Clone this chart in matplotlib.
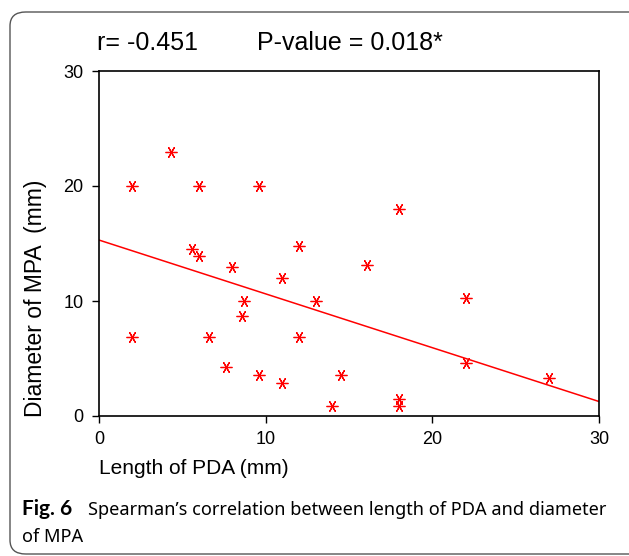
import numpy as np
import matplotlib
matplotlib.use("Agg")
import matplotlib.pyplot as plt
from matplotlib.patches import FancyBboxPatch

# data
pda_length = [2, 2, 4.3, 6, 9.6, 5.6, 6, 8, 8.7, 8.6, 6.6, 7.6, 9.6, 11, 11,
              12, 12, 13, 14, 14.5, 18, 16.1, 22, 22, 27, 18, 18]
mpa_diameter = [20, 6.9, 23, 20, 20, 14.5, 13.9, 13, 10, 8.7, 6.9, 4.3, 3.6, 2.9, 12,
                14.8, 6.9, 10, 0.9, 3.6, 18, 13.1, 10.3, 4.6, 3.3, 1.5, 0.9]
fit_intercept = 15.3
fit_slope = -0.468
x_ticks = [0, 10, 20, 30]
y_ticks = [0, 10, 20, 30]

W, H = 629, 556
fig = plt.figure(figsize=(W / 100, H / 100), dpi=100)
plt.rcParams['font.family'] = ['Liberation Sans', 'DejaVu Sans']

# rounded frame around the whole figure
frame = FancyBboxPatch((10 / W, (H - 554) / H), (W + 20) / W, (554 - 12) / H,
                       boxstyle="round,pad=0,rounding_size=0.025",
                       transform=fig.transFigure, fill=False,
                       edgecolor='#555555', linewidth=1.0)
fig.patches.append(frame)

ax = fig.add_axes([99 / W, (H - 416) / H, 500 / W, 345 / H])
ax.plot(pda_length, mpa_diameter, linestyle='none', marker=(6, 2, 30),
        color='red', markersize=8.5, markeredgewidth=0.9)
xs = np.array([0, 30])
ax.plot(xs, fit_intercept + fit_slope * xs, color='red', linewidth=1.1)

ax.set_xlim(0, 30)
ax.set_ylim(0, 30)
ax.set_xticks(x_ticks)
ax.set_yticks(y_ticks)
ax.tick_params(direction='out', length=5, width=1, labelsize=13, pad=6)
for s in ax.spines.values():
    s.set_linewidth(1.2)

ax.set_xlabel("Length of PDA (mm)", fontsize=15, labelpad=8, loc='left')
ax.set_ylabel("Diameter of MPA  (mm)", fontsize=16.5)
ax.yaxis.set_label_coords(-0.104, 0.342)

fig.text(97 / W, 1 - 50 / H, "r= -0.451", fontsize=18)
fig.text(257 / W, 1 - 50 / H, "P-value = 0.018*", fontsize=18)

fig.text(22 / W, 1 - 515 / H, "Fig. 6", fontsize=15, family='Lato',
         weight='bold')
fig.text(88 / W, 1 - 515 / H,
         "Spearman\u2019s correlation between length of PDA and diameter",
         fontsize=13.1, family='Noto Sans')
fig.text(22 / W, 1 - 542 / H, "of MPA", fontsize=13.1, family='Noto Sans')

fig.savefig("out.png", dpi=100)
